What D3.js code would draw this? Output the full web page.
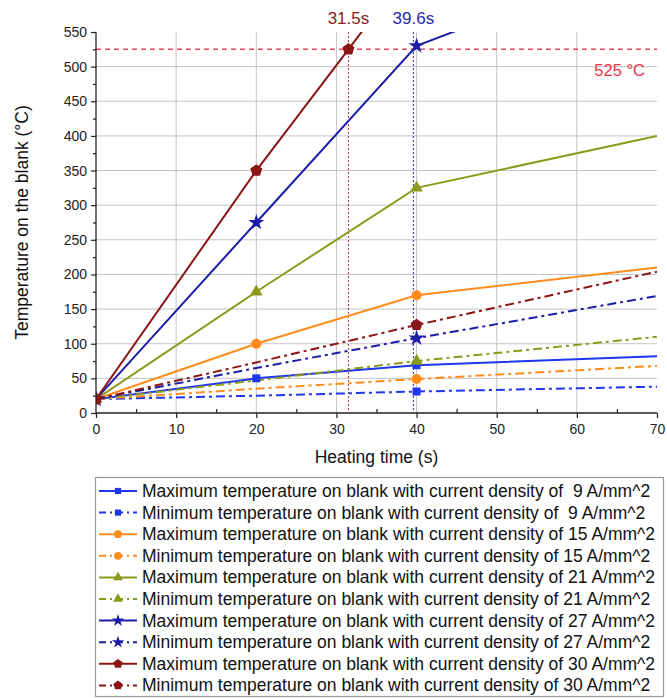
<!DOCTYPE html>
<html>
<head>
<meta charset="utf-8">
<script src="https://cdn.jsdelivr.net/npm/d3@7"></script>
<style>
  html, body { margin: 0; padding: 0; background: #fff; }
  svg { display: block; font-family: "Liberation Sans", Arial, sans-serif; }
</style>
</head>
<body>
<svg id="chart" width="667" height="698"></svg>
<script>
// Heating time (s) sampled for every series
const times = [0, 20, 40, 70];

// Temperatures (°C) of each series at the sampled times
const max9  = [20, 50, 69, 82];
const min9  = [20, 25, 31, 38];
const max15 = [20, 100, 170, 210];
const min15 = [20, 35, 49, 68];
const max21 = [20, 175, 325, 400];
const min21 = [20, 47, 75, 110];
const max27 = [20, 275, 530, 662];
const min27 = [20, 65, 108, 169];
const max30Times = [0, 20, 31.5, 40];
const max30 = [20, 350, 525, 655];
const min30 = [20, 73, 127, 204];

// Legend labels
const densities = [" 9", " 9", "15", "15", "21", "21", "27", "27", "30", "30"];
const kinds = ["Maximum", "Minimum", "Maximum", "Minimum", "Maximum", "Minimum", "Maximum", "Minimum", "Maximum", "Minimum"];

// Axis ticks
const xTicks = [0, 10, 20, 30, 40, 50, 60, 70];
const yTicks = [0, 50, 100, 150, 200, 250, 300, 350, 400, 450, 500, 550];

// Reference values
const limitTemp = 525;
const limitTimes = [31.5, 39.6];
const limitLabels = ["31.5s", "39.6s"];

const series = [
  { x: times, y: max9,  color: "#1f35f0", dash: null, shape: "square",   marks: [0, 20, 40] },
  { x: times, y: min9,  color: "#1f35f0", dash: "dd", shape: "square",   marks: [0, 40] },
  { x: times, y: max15, color: "#ff8c1a", dash: null, shape: "circle",   marks: [0, 20, 40] },
  { x: times, y: min15, color: "#ff8c1a", dash: "dd", shape: "circle",   marks: [0, 40] },
  { x: times, y: max21, color: "#8c9a1c", dash: null, shape: "triangle", marks: [0, 20, 40] },
  { x: times, y: min21, color: "#8c9a1c", dash: "dd", shape: "triangle", marks: [0, 40] },
  { x: times, y: max27, color: "#1c1ca8", dash: null, shape: "star",     marks: [0, 20, 40] },
  { x: times, y: min27, color: "#1c1ca8", dash: "dd", shape: "star",     marks: [0, 40] },
  { x: max30Times, y: max30, color: "#8b1414", dash: null, shape: "pentagon", marks: [0, 20, 31.5] },
  { x: times, y: min30, color: "#8b1414", dash: "dd", shape: "pentagon", marks: [0, 40] }
];

const svg = d3.select("#chart");
const m = { left: 96, right: 657, top: 32, bottom: 413 };

const x = d3.scaleLinear().domain([0, 70]).range([m.left, m.right]);
const y = d3.scaleLinear().domain([0, 550]).range([m.bottom, m.top]);

const DASHDOT = "9,4,3,4";

// marker shapes
const pentagon = {
  draw(ctx, size) {
    const r = Math.sqrt(size / 2.4);
    for (let i = 0; i < 5; i++) {
      const a = -Math.PI / 2 + i * 2 * Math.PI / 5;
      const px = r * Math.cos(a), py = r * Math.sin(a);
      if (i === 0) ctx.moveTo(px, py); else ctx.lineTo(px, py);
    }
    ctx.closePath();
  }
};
const symbolFor = {
  square: d3.symbolSquare,
  circle: d3.symbolCircle,
  triangle: d3.symbolTriangle,
  star: d3.symbolStar,
  pentagon: pentagon
};
const sizeFor = { square: 64, circle: 80, triangle: 70, star: 80, pentagon: 95 };

// grid
const grid = svg.append("g");
grid.selectAll("line.v").data(xTicks.filter(t => t > 0 && t < 70)).join("line")
  .attr("x1", d => x(d)).attr("x2", d => x(d))
  .attr("y1", y(550)).attr("y2", y(0))
  .attr("stroke", "#c4c4c4").attr("stroke-width", 1);
grid.selectAll("line.h").data(yTicks.filter(t => t > 0 && t < 550)).join("line")
  .attr("x1", x(0)).attr("x2", x(70))
  .attr("y1", d => y(d)).attr("y2", d => y(d))
  .attr("stroke", "#c4c4c4").attr("stroke-width", 1);

// clip for the curves
svg.append("clipPath").attr("id", "plot-clip")
  .append("rect")
  .attr("x", x(0)).attr("y", y(550))
  .attr("width", x(70) - x(0)).attr("height", y(0) - y(550));

// vertical markers of the time to reach the limit temperature
const vColors = ["#b03040", "#2a2aa8"];
const labelColors = ["#8b1a1a", "#2a2aa8"];
limitTimes.forEach((t, i) => {
  svg.append("line")
    .attr("x1", x(t)).attr("x2", x(t))
    .attr("y1", y(550)).attr("y2", y(0))
    .attr("stroke", vColors[i]).attr("stroke-width", 1)
    .attr("stroke-dasharray", "2,2");
});

// horizontal limit line
svg.append("line")
  .attr("x1", x(0)).attr("x2", x(70))
  .attr("y1", y(limitTemp)).attr("y2", y(limitTemp))
  .attr("stroke", "#e8475c").attr("stroke-width", 1.6)
  .attr("stroke-dasharray", "5,4");

// curves
const line = d3.line().x(d => x(d[0])).y(d => y(d[1]));
const curves = svg.append("g").attr("clip-path", "url(#plot-clip)");
series.forEach(s => {
  const pts = s.x.map((t, i) => [t, s.y[i]]);
  curves.append("path")
    .attr("d", line(pts))
    .attr("fill", "none")
    .attr("stroke", s.color)
    .attr("stroke-width", 2)
    .attr("stroke-dasharray", s.dash ? DASHDOT : null);
});
series.forEach(s => {
  const pts = s.x.map((t, i) => [t, s.y[i]]).filter(p => s.marks.includes(p[0]));
  curves.selectAll(null).data(pts).join("path")
    .attr("transform", d => `translate(${x(d[0])},${y(d[1])})`)
    .attr("d", d3.symbol().type(symbolFor[s.shape]).size(sizeFor[s.shape]))
    .attr("fill", s.color);
});

// axes
const xAxis = svg.append("g").attr("transform", `translate(0,${y(0)})`)
  .call(d3.axisBottom(x).tickValues(xTicks).tickSize(5).tickPadding(6));
const xMinor = svg.append("g").attr("transform", `translate(0,${y(0)})`)
  .call(d3.axisTop(x).tickValues(d3.range(5, 70, 10)).tickSize(4).tickFormat(""));
xMinor.select(".domain").remove();
const yAxis = svg.append("g").attr("transform", `translate(${x(0)},0)`)
  .call(d3.axisLeft(y).tickValues(yTicks).tickSize(5).tickPadding(4));
const yMinor = svg.append("g").attr("transform", `translate(${x(0)},0)`)
  .call(d3.axisLeft(y).tickValues(d3.range(25, 550, 50)).tickSize(3).tickFormat(""));
yMinor.select(".domain").remove();
[xAxis, yAxis, xMinor, yMinor].forEach(g => {
  g.selectAll("path.domain").attr("stroke", "#222").attr("stroke-width", 1.3);
  g.selectAll(".tick line").attr("stroke", "#222").attr("stroke-width", 1.2);
  g.selectAll(".tick text").attr("font-size", 14).attr("fill", "#222")
    .attr("font-family", "'Liberation Sans', Arial, sans-serif");
});
xAxis.select("path.domain").attr("d", `M${x(0)},0H${x(70)}`);
yAxis.select("path.domain").attr("d", `M0,${y(0)}V${y(550)}`);

// axis titles
svg.append("text")
  .attr("x", (x(0) + x(70)) / 2).attr("y", 463)
  .attr("text-anchor", "middle").attr("font-size", 17.5).attr("fill", "#111")
  .text("Heating time (s)");
svg.append("text")
  .attr("transform", `translate(28,${(y(0) + y(550)) / 2}) rotate(-90)`)
  .attr("text-anchor", "middle").attr("font-size", 17.5).attr("fill", "#111")
  .text("Temperature on the blank (°C)");

// annotations
limitLabels.forEach((lab, i) => {
  svg.append("text")
    .attr("x", x(limitTimes[i])).attr("y", 24)
    .attr("text-anchor", "middle").attr("font-size", 17)
    .attr("fill", labelColors[i])
    .text(lab);
});
svg.append("text")
  .attr("x", 645).attr("y", 76)
  .attr("text-anchor", "end").attr("font-size", 16.5).attr("fill", "#e8334a")
  .text(`${limitTemp} °C`);

// legend
const lg = svg.append("g");
lg.append("rect")
  .attr("x", 95.5).attr("y", 477.5).attr("width", 568).attr("height", 219)
  .attr("fill", "#fff").attr("stroke", "#999").attr("stroke-width", 1.2);
series.forEach((s, i) => {
  const cy = 491 + i * 21.6;
  lg.append("line")
    .attr("x1", 99).attr("x2", 137).attr("y1", cy).attr("y2", cy)
    .attr("stroke", s.color).attr("stroke-width", 2)
    .attr("stroke-dasharray", s.dash ? "7,4,2,4" : null);
  lg.append("path")
    .attr("transform", `translate(118,${cy})`)
    .attr("d", d3.symbol().type(symbolFor[s.shape]).size(sizeFor[s.shape] * 0.6))
    .attr("fill", s.color);
  lg.append("text")
    .attr("x", 142).attr("y", cy + 6)
    .attr("font-size", 17.5).attr("fill", "#111")
    .style("white-space", "pre")
    .text(`${kinds[i]} temperature on blank with current density of ${densities[i]} A/mm^2`);
});
</script>
</body>
</html>
